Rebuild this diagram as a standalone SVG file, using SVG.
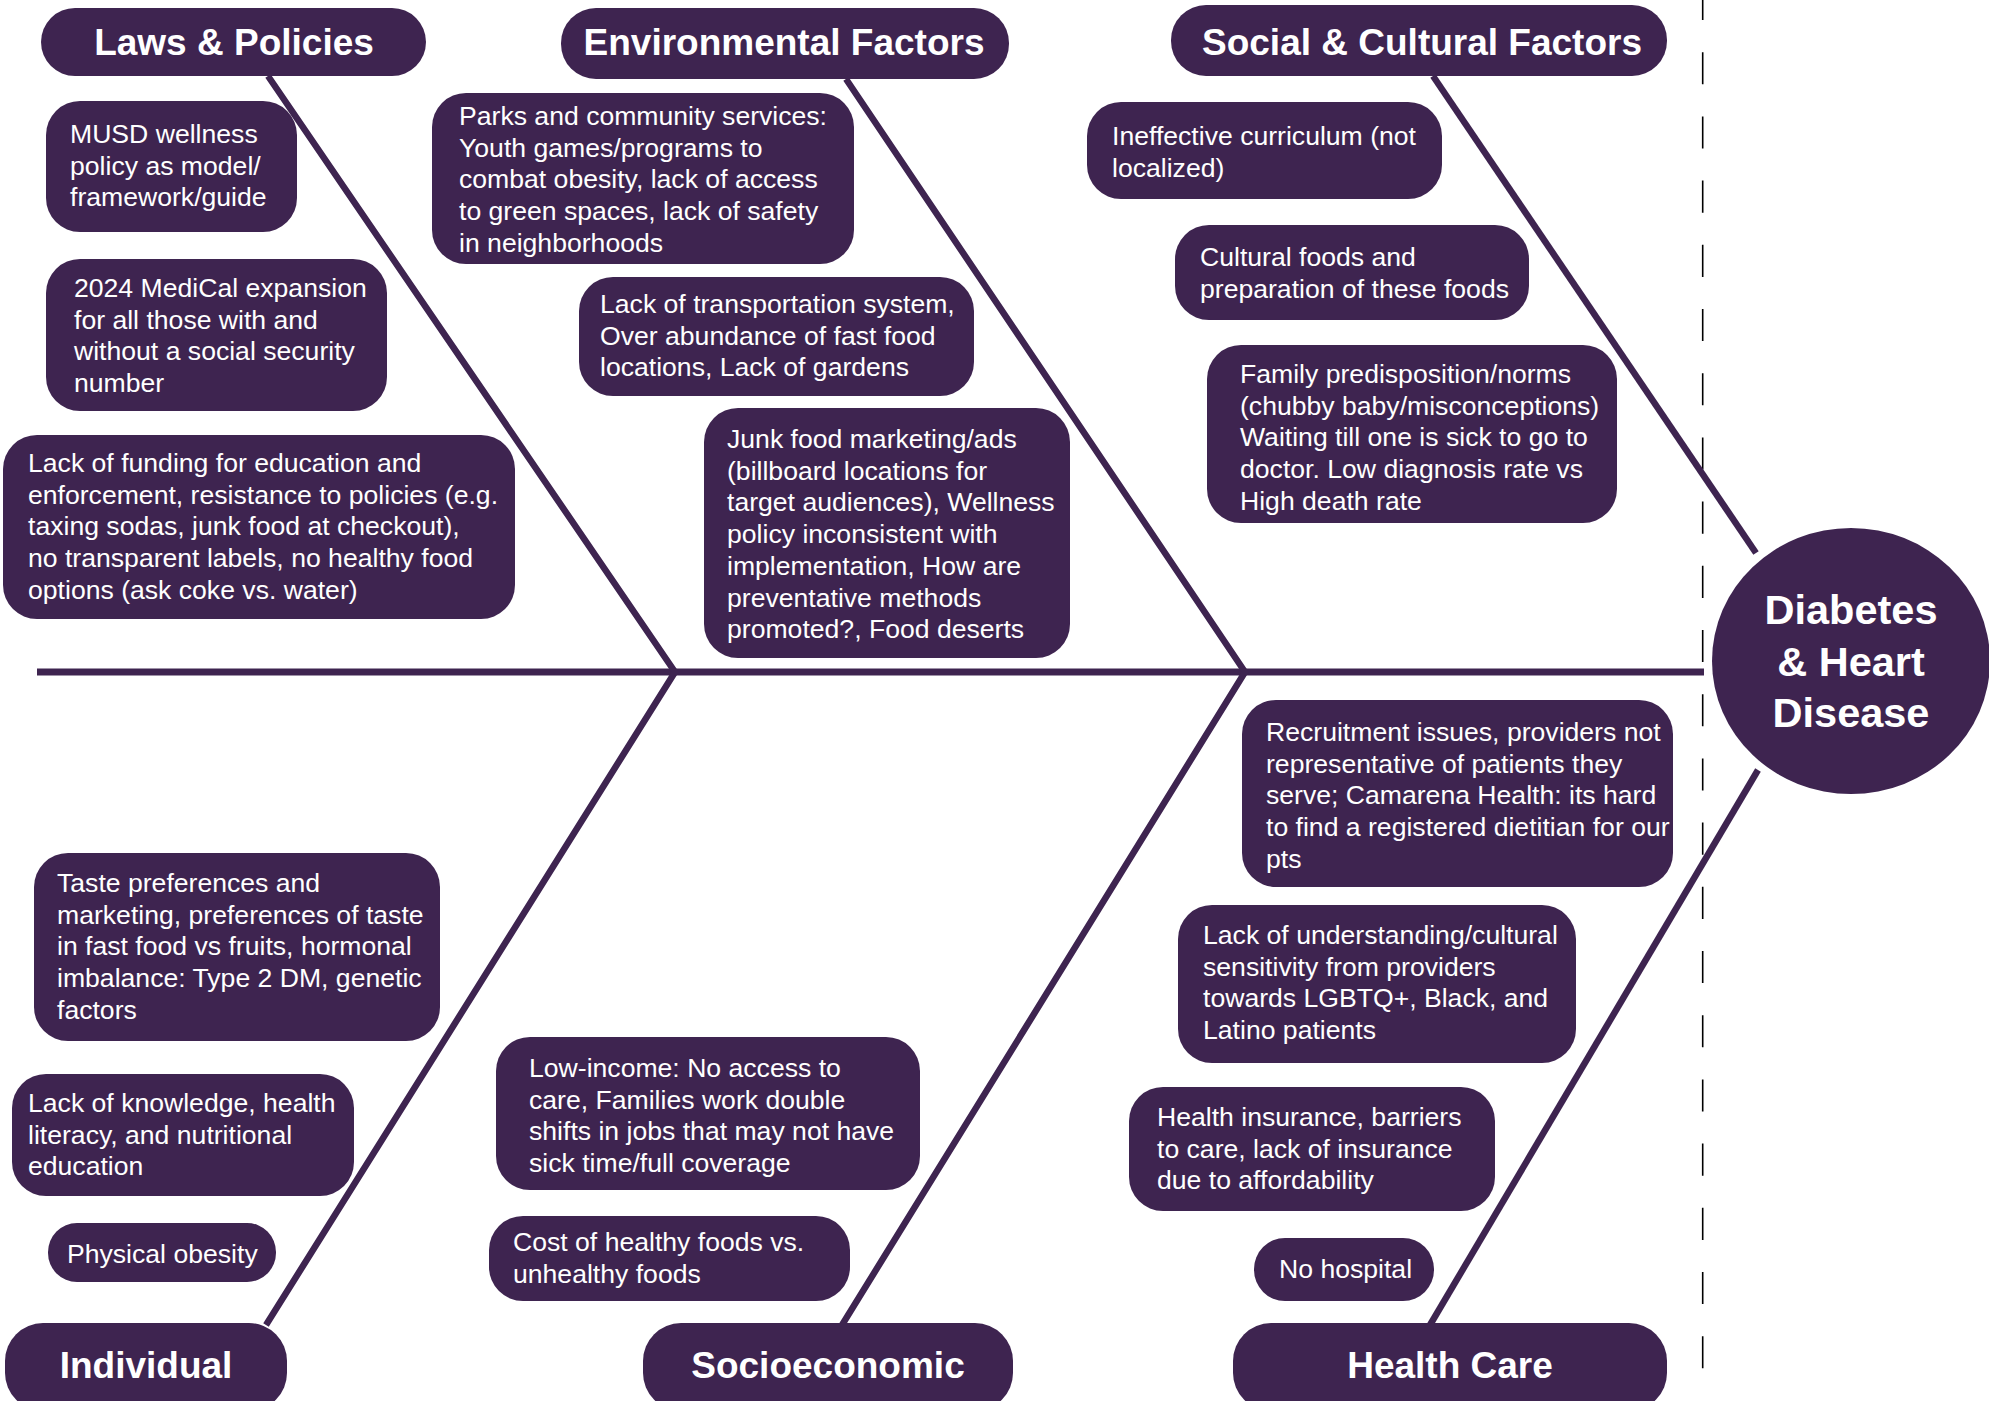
<svg xmlns="http://www.w3.org/2000/svg" width="1989" height="1401" viewBox="0 0 1989 1401">
<style>
.box{fill:#3e2450}
.bone{fill:none;stroke:#3e2450;stroke-width:6.5;stroke-linejoin:miter;stroke-linecap:butt}
.t{font-family:"Liberation Sans",Arial,sans-serif;font-size:26.6px;fill:#ffffff}
.h{font-family:"Liberation Sans",Arial,sans-serif;font-size:37px;font-weight:bold;fill:#ffffff;text-anchor:middle}
.c{font-family:"Liberation Sans",Arial,sans-serif;font-size:41.5px;font-weight:bold;fill:#ffffff;text-anchor:middle}
</style>
<rect width="1989" height="1401" fill="#ffffff"/>
<g id="connectors">
<line x1="1702.7" y1="0" x2="1702.7" y2="1370" stroke="#000000" stroke-width="1.6" stroke-dasharray="32.1 32.1" stroke-dashoffset="12"/>
<line class="bone" x1="37" y1="672" x2="1704" y2="672" style="stroke-width:7"/>
<polyline class="bone" points="268,76 675,672 266,1325"/>
<polyline class="bone" points="846,79 1245,672 842,1325"/>
<line class="bone" x1="1433" y1="76" x2="1756" y2="553"/>
<line class="bone" x1="1758" y1="770" x2="1430" y2="1325"/>
</g>
<g id="cat-laws"><rect class="box" x="41" y="8" width="385" height="68" rx="34"/><text class="h" x="234" y="54.5">Laws &amp; Policies</text></g>
<g id="cat-env"><rect class="box" x="561" y="8" width="448" height="71" rx="35"/><text class="h" x="784" y="54.5">Environmental Factors</text></g>
<g id="cat-social"><rect class="box" x="1171" y="5" width="496" height="71" rx="35"/><text class="h" x="1422" y="54.5">Social &amp; Cultural Factors</text></g>
<g id="cat-individual"><rect class="box" x="5" y="1323" width="282" height="88" rx="38"/><text class="h" x="146" y="1378">Individual</text></g>
<g id="cat-socio"><rect class="box" x="643" y="1323" width="370" height="88" rx="38"/><text class="h" x="828" y="1378">Socioeconomic</text></g>
<g id="cat-health"><rect class="box" x="1233" y="1323" width="434" height="88" rx="38"/><text class="h" x="1450" y="1378">Health Care</text></g>
<g id="outcome"><ellipse class="box" cx="1851" cy="661" rx="139" ry="133"/><text class="c" x="1851" y="623.5">Diabetes</text><text class="c" x="1851" y="675.5">&amp; Heart</text><text class="c" x="1851" y="726.5">Disease</text></g>
<g id="n-musd"><rect class="box" x="46" y="101" width="251" height="131" rx="34"/><text class="t" x="70" y="143"><tspan x="70">MUSD wellness</tspan><tspan x="70" dy="31.7">policy as model/</tspan><tspan x="70" dy="31.7">framework/guide</tspan></text></g>
<g id="n-medical"><rect class="box" x="46" y="259" width="341" height="152" rx="34"/><text class="t" x="74" y="297"><tspan x="74">2024 MediCal expansion</tspan><tspan x="74" dy="31.7">for all those with and</tspan><tspan x="74" dy="31.7">without a social security</tspan><tspan x="74" dy="31.7">number</tspan></text></g>
<g id="n-funding"><rect class="box" x="3" y="435" width="512" height="184" rx="34"/><text class="t" x="28" y="472"><tspan x="28">Lack of funding for education and</tspan><tspan x="28" dy="31.7">enforcement, resistance to policies (e.g.</tspan><tspan x="28" dy="31.7">taxing sodas, junk food at checkout),</tspan><tspan x="28" dy="31.7">no transparent labels, no healthy food</tspan><tspan x="28" dy="31.7">options (ask coke vs. water)</tspan></text></g>
<g id="n-parks"><rect class="box" x="432" y="93" width="422" height="171" rx="34"/><text class="t" x="459" y="125"><tspan x="459">Parks and community services:</tspan><tspan x="459" dy="31.7">Youth games/programs to</tspan><tspan x="459" dy="31.7">combat obesity, lack of access</tspan><tspan x="459" dy="31.7">to green spaces, lack of safety</tspan><tspan x="459" dy="31.7">in neighborhoods</tspan></text></g>
<g id="n-transport"><rect class="box" x="579" y="277" width="395" height="119" rx="34"/><text class="t" x="600" y="313"><tspan x="600">Lack of transportation system,</tspan><tspan x="600" dy="31.7">Over abundance of fast food</tspan><tspan x="600" dy="31.7">locations, Lack of gardens</tspan></text></g>
<g id="n-junk"><rect class="box" x="704" y="408" width="366" height="250" rx="34"/><text class="t" x="727" y="448"><tspan x="727">Junk food marketing/ads</tspan><tspan x="727" dy="31.7">(billboard locations for</tspan><tspan x="727" dy="31.7">target audiences), Wellness</tspan><tspan x="727" dy="31.7">policy inconsistent with</tspan><tspan x="727" dy="31.7">implementation, How are</tspan><tspan x="727" dy="31.7">preventative methods</tspan><tspan x="727" dy="31.7">promoted?, Food deserts</tspan></text></g>
<g id="n-curriculum"><rect class="box" x="1087" y="102" width="355" height="97" rx="34"/><text class="t" x="1112" y="145"><tspan x="1112">Ineffective curriculum (not</tspan><tspan x="1112" dy="31.7">localized)</tspan></text></g>
<g id="n-cultural"><rect class="box" x="1175" y="225" width="354" height="95" rx="34"/><text class="t" x="1200" y="266"><tspan x="1200">Cultural foods and</tspan><tspan x="1200" dy="31.7">preparation of these foods</tspan></text></g>
<g id="n-family"><rect class="box" x="1207" y="345" width="410" height="178" rx="34"/><text class="t" x="1240" y="383"><tspan x="1240">Family predisposition/norms</tspan><tspan x="1240" dy="31.7">(chubby baby/misconceptions)</tspan><tspan x="1240" dy="31.7">Waiting till one is sick to go to</tspan><tspan x="1240" dy="31.7">doctor. Low diagnosis rate vs</tspan><tspan x="1240" dy="31.7">High death rate</tspan></text></g>
<g id="n-taste"><rect class="box" x="34" y="853" width="406" height="188" rx="34"/><text class="t" x="57" y="892"><tspan x="57">Taste preferences and</tspan><tspan x="57" dy="31.7">marketing, preferences of taste</tspan><tspan x="57" dy="31.7">in fast food vs fruits, hormonal</tspan><tspan x="57" dy="31.7">imbalance: Type 2 DM, genetic</tspan><tspan x="57" dy="31.7">factors</tspan></text></g>
<g id="n-knowledge"><rect class="box" x="12" y="1074" width="342" height="122" rx="34"/><text class="t" x="28" y="1112"><tspan x="28">Lack of knowledge, health</tspan><tspan x="28" dy="31.7">literacy, and nutritional</tspan><tspan x="28" dy="31.7">education</tspan></text></g>
<g id="n-obesity"><rect class="box" x="48" y="1223" width="228" height="59" rx="29"/><text class="t" x="67" y="1263">Physical obesity</text></g>
<g id="n-income"><rect class="box" x="496" y="1037" width="424" height="153" rx="34"/><text class="t" x="529" y="1077"><tspan x="529">Low-income: No access to</tspan><tspan x="529" dy="31.7">care, Families work double</tspan><tspan x="529" dy="31.7">shifts in jobs that may not have</tspan><tspan x="529" dy="31.7">sick time/full coverage</tspan></text></g>
<g id="n-cost"><rect class="box" x="489" y="1216" width="361" height="85" rx="34"/><text class="t" x="513" y="1251"><tspan x="513">Cost of healthy foods vs.</tspan><tspan x="513" dy="31.7">unhealthy foods</tspan></text></g>
<g id="n-recruit"><rect class="box" x="1242" y="700" width="431" height="187" rx="34"/><text class="t" x="1266" y="741"><tspan x="1266">Recruitment issues, providers not</tspan><tspan x="1266" dy="31.7">representative of patients they</tspan><tspan x="1266" dy="31.7">serve; Camarena Health: its hard</tspan><tspan x="1266" dy="31.7">to find a registered dietitian for our</tspan><tspan x="1266" dy="31.7">pts</tspan></text></g>
<g id="n-understanding"><rect class="box" x="1178" y="905" width="398" height="158" rx="34"/><text class="t" x="1203" y="944"><tspan x="1203">Lack of understanding/cultural</tspan><tspan x="1203" dy="31.7">sensitivity from providers</tspan><tspan x="1203" dy="31.7">towards LGBTQ+, Black, and</tspan><tspan x="1203" dy="31.7">Latino patients</tspan></text></g>
<g id="n-insurance"><rect class="box" x="1129" y="1087" width="366" height="124" rx="34"/><text class="t" x="1157" y="1126"><tspan x="1157">Health insurance, barriers</tspan><tspan x="1157" dy="31.7">to care, lack of insurance</tspan><tspan x="1157" dy="31.7">due to affordability</tspan></text></g>
<g id="n-hospital"><rect class="box" x="1254" y="1238" width="180" height="63" rx="31"/><text class="t" x="1279" y="1278">No hospital</text></g>
</svg>
